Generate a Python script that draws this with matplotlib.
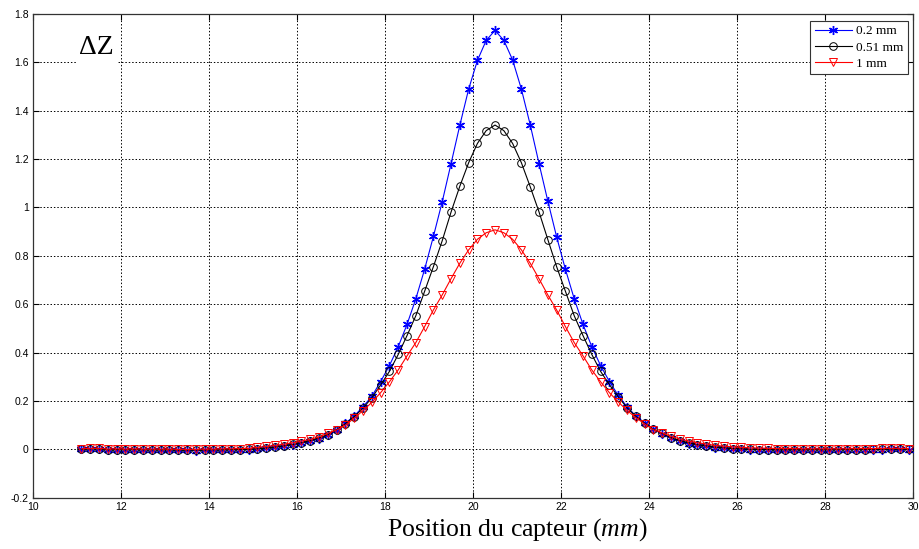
import numpy as np
import matplotlib
matplotlib.use("Agg")
import matplotlib.pyplot as plt

plt.rcParams["mathtext.fontset"] = "custom"
plt.rcParams["mathtext.rm"] = "Liberation Serif"
plt.rcParams["mathtext.it"] = "Liberation Serif:italic"

# Sensor positions (mm), 0.2 mm step
position = np.round(np.arange(11.1, 29.95, 0.2), 1)

# Impedance variation for each defect depth
dz_02 = [0.000, 0.002, 0.001, -0.004, -0.002, -0.003, -0.002, -0.003, -0.002, -0.003,
         -0.003, -0.004, -0.004, -0.005, -0.004, -0.004, -0.003, -0.003, -0.002, -0.001,
         0.001, 0.004, 0.008, 0.013, 0.018, 0.025, 0.033, 0.043, 0.058, 0.080,
         0.108, 0.138, 0.176, 0.219, 0.280, 0.346, 0.424, 0.516, 0.622, 0.744,
         0.880, 1.023, 1.180, 1.339, 1.488, 1.607, 1.690, 1.731, 1.690, 1.609,
         1.488, 1.341, 1.181, 1.026, 0.878, 0.744, 0.622, 0.516, 0.424, 0.346,
         0.280, 0.223, 0.176, 0.138, 0.110, 0.083, 0.064, 0.045, 0.033, 0.023,
         0.016, 0.012, 0.007, 0.004, 0.002, 0.000, -0.001, -0.002, -0.002, -0.003,
         -0.003, -0.002, -0.003, -0.002, -0.002, -0.003, -0.002, -0.002, -0.001, -0.002,
         -0.001, -0.001, 0.000, 0.000, -0.001]

dz_051 = [0.000, 0.002, 0.002, -0.002, -0.001, -0.002, -0.001, -0.002, -0.002, -0.002,
          -0.002, -0.003, -0.003, -0.003, -0.003, -0.002, -0.002, -0.001, -0.001, 0.000,
          0.002, 0.005, 0.009, 0.014, 0.020, 0.027, 0.036, 0.047, 0.061, 0.081,
          0.106, 0.135, 0.170, 0.213, 0.266, 0.322, 0.392, 0.470, 0.552, 0.653,
          0.755, 0.862, 0.980, 1.087, 1.184, 1.264, 1.317, 1.340, 1.317, 1.264,
          1.184, 1.085, 0.981, 0.867, 0.755, 0.653, 0.552, 0.470, 0.392, 0.322,
          0.267, 0.217, 0.172, 0.136, 0.108, 0.083, 0.066, 0.048, 0.036, 0.027,
          0.019, 0.014, 0.009, 0.006, 0.003, 0.002, 0.000, -0.001, -0.001, -0.002,
          -0.002, -0.002, -0.002, -0.001, -0.002, -0.002, -0.001, -0.001, -0.001, -0.001,
          0.000, 0.000, 0.001, 0.001, 0.000]

dz_1 = [0.002, 0.004, 0.004, 0.001, 0.002, 0.001, 0.002, 0.001, 0.001, 0.001,
        0.001, 0.000, 0.000, 0.000, 0.001, 0.001, 0.002, 0.002, 0.003, 0.004,
        0.008, 0.012, 0.016, 0.021, 0.027, 0.034, 0.041, 0.052, 0.066, 0.080,
        0.100, 0.129, 0.160, 0.194, 0.234, 0.279, 0.328, 0.386, 0.441, 0.507,
        0.576, 0.638, 0.705, 0.769, 0.824, 0.868, 0.895, 0.907, 0.895, 0.868,
        0.824, 0.769, 0.705, 0.638, 0.576, 0.507, 0.441, 0.386, 0.328, 0.279,
        0.234, 0.196, 0.161, 0.131, 0.105, 0.081, 0.068, 0.054, 0.043, 0.034,
        0.027, 0.022, 0.016, 0.013, 0.010, 0.008, 0.006, 0.005, 0.004, 0.003,
        0.003, 0.003, 0.002, 0.002, 0.002, 0.002, 0.002, 0.002, 0.003, 0.003,
        0.003, 0.004, 0.004, 0.004, 0.003]

labels = ["0.2 mm", "0.51 mm", "1 mm"]
x_ticks = [10, 12, 14, 16, 18, 20, 22, 24, 26, 28, 30]
y_ticks = [-0.2, 0, 0.2, 0.4, 0.6, 0.8, 1.0, 1.2, 1.4, 1.6, 1.8]
y_ticklabels = ["-0.2", "0", "0.2", "0.4", "0.6", "0.8", "1", "1.2", "1.4", "1.6", "1.8"]

fig = plt.figure(figsize=(9.2, 5.49), dpi=100)
ax = fig.add_axes([0.0359, 0.0934, 0.9565, 0.8816])

ax.plot(position, dz_02, color="blue", lw=0.8, marker=(6, 2, 0), ms=6.5, mew=1.0,
        label=labels[0], zorder=3)
ax.plot(position, dz_051, color="black", lw=0.8, marker="o", ms=5.5, mew=0.7,
        mfc="none", label=labels[1], zorder=4)
ax.plot(position, dz_1, color="red", lw=0.8, marker="v", ms=6, mew=0.7,
        mfc="none", label=labels[2], zorder=5)

ax.set_xlim(10, 30)
ax.set_ylim(-0.2, 1.8)
ax.set_xticks(x_ticks)
ax.set_yticks(y_ticks)
ax.set_yticklabels(y_ticklabels)
ax.grid(True, color="black", linestyle=(0, (1.5, 2)), linewidth=0.7)
ax.tick_params(direction="in", length=4, width=0.8, top=True, right=True,
               labelsize=7.5, pad=3)
for lab in ax.get_xticklabels() + ax.get_yticklabels():
    lab.set_fontfamily("Liberation Sans")
for sp in ax.spines.values():
    sp.set_linewidth(0.9)
    sp.set_color("#333333")

ax.text(11.05, 1.66, "ΔZ", fontsize=20, family="Liberation Serif",
        va="center", ha="left",
        bbox=dict(facecolor="white", edgecolor="none", pad=2), zorder=6)

leg = ax.legend(loc="upper right", bbox_to_anchor=(0.994, 0.986),
                prop={"family": "Liberation Serif", "size": 9.5},
                fancybox=False, edgecolor="#333333", framealpha=1,
                handlelength=2.8, handletextpad=0.3, borderpad=0.35,
                labelspacing=0.3, borderaxespad=0)
leg.get_frame().set_linewidth(0.8)

fig.text(517 / 920, 1 - 530 / 549, r"Position du capteur ($\mathit{mm}$)",
         fontsize=18.5, family="Liberation Serif", ha="center", va="center")

fig.savefig("out.png", dpi=100)
